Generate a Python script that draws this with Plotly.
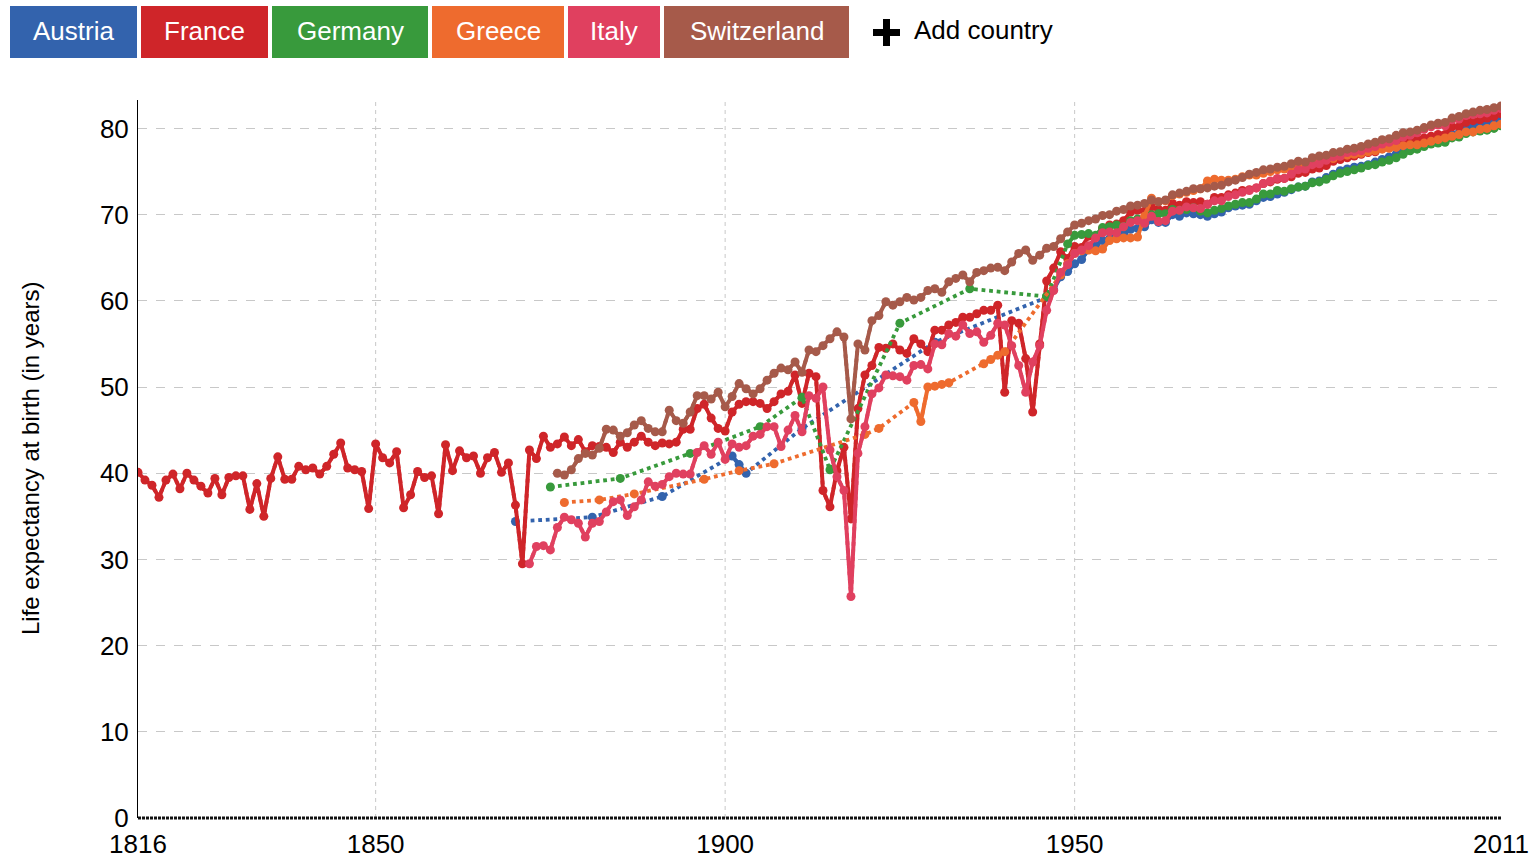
import plotly.graph_objects as go

# ---- data (life expectancy at birth, years) ----
countries = ["Austria", "France", "Germany", "Greece", "Italy", "Switzerland"]
colors = ["#3363ad", "#cf2529", "#389a3c", "#ee6b2e", "#e0405f", "#a65a4a"]

austria_years = [1870, 1881, 1891, 1901, 1902, 1903, 1911, 1930] + list(range(1946, 2012))
austria_le = [34.4, 34.9, 37.3, 42.0, 41.0, 40.0, 45.2, 55.2,
              60.4, 61.3, 62.8, 63.4,
              64.3, 64.8, 66.0, 66.4, 67.0, 67.2, 67.6, 67.7, 68.3, 68.4,
              68.6, 69.4, 69.1, 69.1, 70.0, 69.8, 70.2, 70.1, 70.0, 69.8,
              70.1, 70.3, 70.8, 71.0, 71.1, 71.2, 71.6, 72.0, 72.1, 72.4,
              72.6, 72.9, 73.2, 73.3, 73.8, 73.9, 74.3, 74.7, 75.1, 75.3,
              75.5, 75.6, 75.8, 76.1, 76.4, 76.7, 77.0, 77.5, 77.8, 78.0,
              78.3, 78.7, 78.8, 78.8, 79.3, 79.5, 80.0, 80.2, 80.5, 80.5,
              80.8, 81.1]

france_years = list(range(1816, 2012))
france_le = [40.1, 39.2, 38.6, 37.2, 39.2, 39.9, 38.2, 40.0, 39.2, 38.5,
             37.7, 39.4, 37.5, 39.5, 39.7, 39.7, 35.8, 38.8, 35.0, 39.4,
             41.9, 39.3, 39.3, 40.8, 40.4, 40.6, 39.9, 40.8, 42.2, 43.5,
             40.6, 40.4, 40.2, 35.9, 43.4, 41.8, 41.2, 42.5, 36.0, 37.5,
             40.2, 39.5, 39.7, 35.3, 43.3, 40.3, 42.6, 41.8, 42.0, 40.0,
             41.8, 42.4, 40.1, 41.2, 36.3, 29.5, 42.7, 41.7, 44.3, 43.0,
             43.4, 44.2, 43.2, 43.9, 42.5, 43.2, 43.1, 43.0, 42.4, 43.6,
             43.0, 43.6, 44.3, 43.6, 43.2, 43.5, 43.4, 43.6, 45.1, 45.1,
             47.5, 48.0, 46.4, 45.2, 44.9, 47.1, 48.0, 48.3, 48.3, 48.1,
             47.5, 48.3, 49.2, 49.5, 51.4, 48.1, 51.6, 51.2, 38.0, 36.1,
             40.3, 43.0, 34.7, 47.5, 51.4, 52.5, 54.6, 54.5, 55.0, 54.3,
             53.9, 55.6, 55.0, 54.1, 56.6, 56.6, 57.2, 57.5, 58.1, 58.1,
             58.5, 58.9, 58.9, 59.5, 49.4, 57.7, 57.4, 53.3, 47.1, 55.0,
             62.3, 63.8, 65.7, 64.9,
             66.3, 66.2, 67.5, 67.4, 68.4, 68.8, 68.9, 69.3, 70.3, 70.5,
             70.4, 70.9, 70.6, 70.5, 71.3, 71.1, 71.5, 71.4, 71.5, 71.2,
             72.0, 72.0, 72.3, 72.5, 72.8, 72.9, 73.1, 73.6, 73.8, 74.1,
             74.2, 74.4, 74.8, 74.9, 75.3, 75.4, 75.7, 76.2, 76.4, 76.6,
             76.8, 77.0, 77.2, 77.3, 77.7, 77.8, 78.0, 78.4, 78.5, 78.7,
             78.9, 79.1, 79.3, 79.3, 80.2, 80.2, 80.7, 80.9, 81.0, 81.2,
             81.4, 81.7]

germany_years = [1875, 1885, 1895, 1905, 1911, 1915, 1925, 1935, 1946] + list(range(1949, 2012))
germany_le = [38.4, 39.4, 42.3, 45.4, 48.8, 40.4, 57.4, 61.4, 60.5,
              66.6,
              67.6, 67.7, 67.8, 67.6, 68.5, 68.6, 68.8, 68.6, 69.3, 69.5,
              69.6, 70.0, 70.1, 70.1, 70.6, 70.5, 70.6, 70.8, 70.4, 70.2,
              70.5, 70.7, 71.0, 71.2, 71.4, 71.4, 71.8, 72.4, 72.4, 72.8,
              72.7, 73.0, 73.2, 73.3, 73.7, 73.8, 74.1, 74.5, 74.8, 75.0,
              75.2, 75.4, 75.7, 75.8, 76.1, 76.3, 76.6, 77.0, 77.4, 77.6,
              77.9, 78.2, 78.3, 78.4, 78.9, 79.0, 79.4, 79.6, 79.7, 79.8,
              80.0, 80.3]

greece_years = [1877, 1882, 1887, 1897, 1902, 1907, 1920, 1922, 1927, 1928, 1929,
                1930, 1931, 1932, 1937, 1938, 1939, 1940] + list(range(1948, 2012))
greece_le = [36.6, 36.9, 37.6, 39.3, 40.3, 41.1, 44.5, 45.2, 48.2, 46.0, 50.0,
             50.1, 50.3, 50.5, 52.7, 53.2, 53.7, 54.1,
             63.0, 64.3,
             65.5, 65.8, 65.9, 65.8, 66.0, 67.0, 67.2, 67.3, 67.3, 67.4,
             69.8, 71.9, 71.5, 71.6, 72.2, 72.4, 72.6, 72.8, 73.0, 73.9,
             74.1, 74.0, 74.0, 74.1, 74.4, 74.6, 74.6, 74.8, 75.0, 75.2,
             75.3, 75.4, 75.6, 75.7, 76.0, 76.2, 76.4, 76.5, 76.8, 76.9,
             77.0, 77.1, 77.3, 77.4, 77.6, 77.7, 77.8, 78.0, 78.1, 78.1,
             78.3, 78.5, 78.7, 78.9, 79.1, 79.3, 79.6, 79.6, 79.9, 80.0,
             80.3, 80.5]

italy_years = list(range(1872, 2012))
italy_le = [29.5, 31.5, 31.6, 31.1, 33.7, 34.9, 34.6, 34.2, 32.6, 34.2,
            34.4, 35.5, 36.7, 36.9, 35.1, 36.1, 36.9, 39.0, 38.5, 38.7,
            39.6, 40.0, 39.9, 39.9, 42.4, 43.2, 42.2, 43.6, 41.6, 43.4,
            43.0, 43.2, 44.3, 44.5, 45.4, 45.4, 43.1, 45.0, 46.7, 44.8,
            49.0, 48.7, 50.0, 42.7, 39.6, 38.0, 25.7, 42.3, 45.4, 49.2,
            49.9, 51.4, 51.3, 51.2, 50.8, 52.5, 52.6, 52.1, 55.0, 54.9,
            56.2, 55.9, 57.2, 56.2, 56.4, 55.2, 56.0, 57.4, 57.2, 54.8,
            52.5, 49.4, 52.9, 54.8, 58.9, 61.2, 63.3, 64.2,
            65.5, 65.9, 66.4, 67.3, 67.9, 68.0, 67.9, 68.6, 69.1, 69.3,
            69.0, 69.8, 69.2, 69.3, 70.4, 70.5, 70.9, 70.8, 70.7, 71.2,
            71.6, 71.6, 72.1, 72.3, 72.6, 72.8, 73.1, 73.6, 73.9, 74.2,
            74.2, 74.7, 75.2, 75.3, 75.8, 75.9, 76.3, 76.7, 76.8, 77.2,
            77.3, 77.4, 77.7, 77.9, 78.2, 78.4, 78.6, 79.0, 79.2, 79.5,
            79.9, 80.2, 80.4, 80.3, 81.0, 81.1, 81.5, 81.6, 81.7, 81.8,
            82.1, 82.3]

switzerland_years = list(range(1876, 2012))
switzerland_le = [40.0, 39.8, 40.4, 41.7, 42.3, 42.1, 42.9, 45.1, 45.0, 44.3,
                  44.7, 45.6, 46.1, 45.2, 44.8, 44.8, 47.3, 46.1, 45.8, 47.1,
                  49.0, 49.0, 48.6, 49.4, 47.7, 48.9, 50.4, 49.8, 49.2, 49.8,
                  50.8, 51.6, 52.2, 52.0, 52.9, 51.7, 54.3, 54.1, 54.8, 55.6,
                  56.4, 55.8, 46.3, 55.0, 54.3, 57.7, 58.3, 59.9, 59.5, 59.9,
                  60.4, 60.1, 60.4, 61.2, 61.4, 61.0, 62.2, 62.6, 63.0, 62.2,
                  63.3, 63.5, 63.8, 63.9, 63.5, 64.5, 65.5, 65.9, 64.7, 65.3,
                  66.1, 66.3, 67.2, 68.0,
                  68.8, 69.0, 69.3, 69.5, 69.9, 70.0, 70.4, 70.6, 71.0, 71.1,
                  71.3, 71.7, 71.5, 71.7, 72.3, 72.5, 72.7, 73.0, 73.0, 73.1,
                  73.3, 73.4, 73.8, 74.0, 74.3, 74.7, 74.9, 75.2, 75.3, 75.5,
                  75.6, 75.9, 76.2, 76.1, 76.6, 76.8, 76.9, 77.2, 77.3, 77.6,
                  77.7, 77.9, 78.2, 78.4, 78.7, 78.8, 79.2, 79.5, 79.6, 79.8,
                  80.1, 80.4, 80.6, 80.7, 81.2, 81.4, 81.7, 81.9, 82.1, 82.2,
                  82.4, 82.6]

series = [
    (austria_years, austria_le),
    (france_years, france_le),
    (germany_years, germany_le),
    (greece_years, greece_le),
    (italy_years, italy_le),
    (switzerland_years, switzerland_le),
]

x_ticks = [1816, 1850, 1900, 1950, 2011]
x_grid = [1850, 1900, 1950]
y_ticks = [0, 10, 20, 30, 40, 50, 60, 70, 80]

FONT = "Liberation Sans, Arial, sans-serif"

# page geometry (pixels)
W, H = 1538, 859
ML, MR, MT, MB = 138, 37, 100, 41
PW, PH = W - ML - MR, H - MT - MB


def px(x):
    return (x - ML) / PW


def py(y):
    return (H - MB - y) / PH


def solid_segments(years, vals):
    # break the solid line wherever a year is missing
    xs, ys = [], []
    for i, (yr, v) in enumerate(zip(years, vals)):
        if i > 0 and yr - years[i - 1] > 1:
            xs.append(None)
            ys.append(None)
        xs.append(yr)
        ys.append(v)
    return xs, ys


fig = go.Figure()

for name, color, (yrs, vals) in zip(countries, colors, series):
    # dotted connector across gaps
    fig.add_trace(go.Scatter(x=yrs, y=vals, mode="lines", name=name,
                             line=dict(color=color, width=3.8, dash="dot"),
                             hoverinfo="skip", showlegend=False))
    sx, sy = solid_segments(yrs, vals)
    fig.add_trace(go.Scatter(x=sx, y=sy, mode="lines+markers", name=name,
                             line=dict(color=color, width=4),
                             marker=dict(color=color, size=9),
                             connectgaps=False, showlegend=False))

shapes = []
for g in x_grid:
    shapes.append(dict(type="line", xref="x", yref="paper", x0=g, x1=g, y0=0, y1=1,
                       line=dict(color="#c8c8c8", width=1, dash="4px,4px"), layer="below"))
# dotted zero line (paper refs so it is not clipped at the plot edge)
shapes.append(dict(type="line", xref="paper", yref="paper", x0=0, x1=1, y0=0, y1=0,
                   line=dict(color="#111111", width=3, dash="3px,1px")))

# country buttons across the top
buttons = [(10, 137), (141, 268), (272, 428), (432, 564), (568, 660), (664, 849)]
annotations = []
for name, color, (bx0, bx1) in zip(countries, colors, buttons):
    shapes.append(dict(type="rect", xref="paper", yref="paper",
                       x0=px(bx0), x1=px(bx1), y0=py(58), y1=py(6),
                       fillcolor=color, line=dict(width=0)))
    annotations.append(dict(xref="paper", yref="paper", x=px((bx0 + bx1) / 2), y=py(31),
                            text=name, showarrow=False, xanchor="center", yanchor="middle",
                            font=dict(family=FONT, size=26, color="white")))

# "+ Add country"
shapes.append(dict(type="rect", xref="paper", yref="paper", x0=px(883), x1=px(890),
                   y0=py(46), y1=py(19), fillcolor="black", line=dict(width=0)))
shapes.append(dict(type="rect", xref="paper", yref="paper", x0=px(873), x1=px(900),
                   y0=py(36), y1=py(29), fillcolor="black", line=dict(width=0)))
annotations.append(dict(xref="paper", yref="paper", x=px(912), y=py(30), text="Add country",
                        showarrow=False, xanchor="left", yanchor="middle",
                        font=dict(family=FONT, size=26, color="black")))

# y axis title
annotations.append(dict(xref="paper", yref="paper", x=px(30), y=py(458),
                        text="Life expectancy at birth (in years)", textangle=-90,
                        showarrow=False, xanchor="center", yanchor="middle",
                        font=dict(family=FONT, size=24, color="black")))

fig.update_layout(
    width=W, height=H,
    margin=dict(l=ML, r=MR, t=MT, b=MB, pad=0, autoexpand=False),
    paper_bgcolor="white", plot_bgcolor="white",
    font=dict(family=FONT, size=26, color="black"),
    shapes=shapes, annotations=annotations,
    showlegend=False,
    xaxis=dict(range=[1816, 2011], tickvals=x_ticks, showgrid=False, zeroline=False,
               showline=False, ticks="", ticklabelstandoff=8, automargin=False,
               tickfont=dict(family=FONT, size=26, color="black")),
    yaxis=dict(range=[0, 83.3], tickvals=y_ticks, showgrid=True, gridcolor="#c8c8c8",
               griddash="dash", gridwidth=1, zeroline=False, showline=True,
               linecolor="black", linewidth=1, ticks="", ticklabelstandoff=3,
               automargin=False,
               tickfont=dict(family=FONT, size=26, color="black")),
)

fig.write_html("out.html", config={"displayModeBar": False},
               post_script="document.body.style.margin='0';document.body.style.overflow='hidden';")
